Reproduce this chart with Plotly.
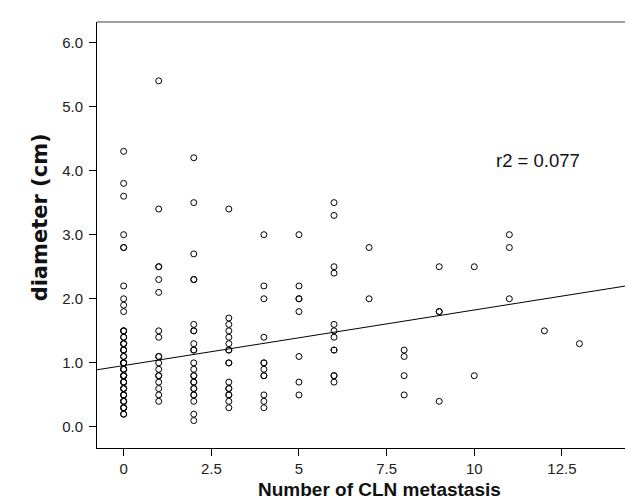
import numpy as np
import plotly.graph_objects as go

# Diameter (cm) observed at each number of CLN metastases
cln_0 = [4.3, 3.8, 3.6, 3.0, 2.8, 2.8, 2.2, 2.0, 1.9, 1.8,
         1.5, 1.5, 1.5, 1.4, 1.4, 1.3, 1.3, 1.3, 1.2, 1.2, 1.2, 1.1, 1.1,
         1.0, 1.0, 1.0, 1.0, 0.9, 0.9, 0.9, 0.8, 0.8, 0.8, 0.8, 0.7, 0.7, 0.7,
         0.6, 0.6, 0.6, 0.5, 0.5, 0.5, 0.4, 0.4, 0.4, 0.3, 0.3, 0.3, 0.2, 0.2]
cln_1 = [5.4, 3.4, 2.5, 2.5, 2.3, 2.1, 1.5, 1.4, 1.1, 1.1, 1.0, 0.9, 0.8, 0.8,
         0.7, 0.6, 0.5, 0.4]
cln_2 = [4.2, 3.5, 2.7, 2.3, 2.3, 1.6, 1.5, 1.5, 1.3, 1.2, 1.2, 1.0, 0.9, 0.8,
         0.8, 0.7, 0.7, 0.6, 0.6, 0.5, 0.5, 0.4, 0.2, 0.1]
cln_3 = [3.4, 1.7, 1.6, 1.5, 1.4, 1.3, 1.2, 1.2, 1.0, 1.0, 0.7, 0.6, 0.6, 0.5,
         0.5, 0.4, 0.3]
cln_4 = [3.0, 2.2, 2.0, 1.4, 1.0, 1.0, 0.9, 0.8, 0.8, 0.5, 0.4, 0.3]
cln_5 = [3.0, 2.2, 2.0, 2.0, 1.8, 1.1, 0.7, 0.5]
cln_6 = [3.5, 3.3, 2.5, 2.4, 1.6, 1.5, 1.4, 1.2, 1.2, 0.8, 0.8, 0.7]
cln_7 = [2.8, 2.0]
cln_8 = [1.2, 1.1, 0.8, 0.5]
cln_9 = [2.5, 1.8, 1.8, 0.4]
cln_10 = [2.5, 0.8]
cln_11 = [3.0, 2.8, 2.0]
cln_12 = [1.5]
cln_13 = [1.3]

groups = [cln_0, cln_1, cln_2, cln_3, cln_4, cln_5, cln_6,
          cln_7, cln_8, cln_9, cln_10, cln_11, cln_12, cln_13]

# Fitted regression line
fit_intercept = 0.958
fit_slope = 0.0867
r2_label = "r2 = 0.077"

x_tick_vals = [0, 2.5, 5, 7.5, 10, 12.5]
x_tick_text = ["0", "2.5", "5", "7.5", "10", "12.5"]
y_tick_vals = [0, 1, 2, 3, 4, 5, 6]
y_tick_text = ["0.0", "1.0", "2.0", "3.0", "4.0", "5.0", "6.0"]

x_title = "Number of CLN metastasis"
y_title = "diameter (cm)"

x_range = [-0.76, 14.755]
y_range = [-0.328, 6.318]

xs, ys = [], []
for n, vals in enumerate(groups):
    xs.extend([n] * len(vals))
    ys.extend(vals)

font_family = "Liberation Sans, Arial, Helvetica, sans-serif"
ytitle_family = "DejaVu Sans, Liberation Sans, Arial, sans-serif"

fig = go.Figure()
fig.add_trace(go.Scatter(
    x=xs, y=ys, mode="markers",
    marker=dict(symbol="circle-open", size=6, color="black",
                line=dict(width=1, color="black")),
    showlegend=False, hoverinfo="skip"))

line_x = np.array(x_range)
fig.add_trace(go.Scatter(
    x=line_x, y=fit_intercept + fit_slope * line_x, mode="lines",
    line=dict(color="black", width=1), showlegend=False, hoverinfo="skip"))

fig.add_annotation(x=11.83, y=4.15, text=r2_label, showarrow=False,
                   font=dict(family=font_family, size=18.5, color="#111"))

fig.add_annotation(x=7.3, xref="x", y=0, yref="paper", yshift=-41,
                   text="<b>" + x_title + "</b>", showarrow=False,
                   xanchor="center", yanchor="middle",
                   font=dict(family=font_family, size=19, color="#111"))
fig.add_annotation(x=0, xref="paper", xshift=-57, y=3.27, yref="y",
                   text="<b>" + y_title + "</b>", showarrow=False, textangle=-90,
                   xanchor="center", yanchor="middle", borderpad=0,
                   font=dict(family=ytitle_family, size=21, color="#111"))

fig.update_layout(
    width=633, height=499,
    margin=dict(l=89, r=0, t=14, b=59),
    paper_bgcolor="white", plot_bgcolor="white",
    font=dict(family=font_family, color="#222"),
    xaxis=dict(range=x_range, tickvals=x_tick_vals, ticktext=x_tick_text,
               showgrid=False, zeroline=False, showline=True, linecolor="black",
               linewidth=1, ticks="outside", ticklen=7, tickcolor="black",
               tickfont=dict(size=15, color="#222")),
    yaxis=dict(range=y_range, tickvals=y_tick_vals, ticktext=y_tick_text,
               showgrid=False, zeroline=False, showline=True, linecolor="black",
               linewidth=1, ticks="outside", ticklen=7, tickcolor="black",
               ticklabelstandoff=3,
               tickfont=dict(size=15, color="#222")),
)
fig.add_shape(type="line", xref="paper", yref="paper", x0=0, x1=1, y0=1, y1=1,
              line=dict(color="#808080", width=1.5))

fig.write_html("out.html")
